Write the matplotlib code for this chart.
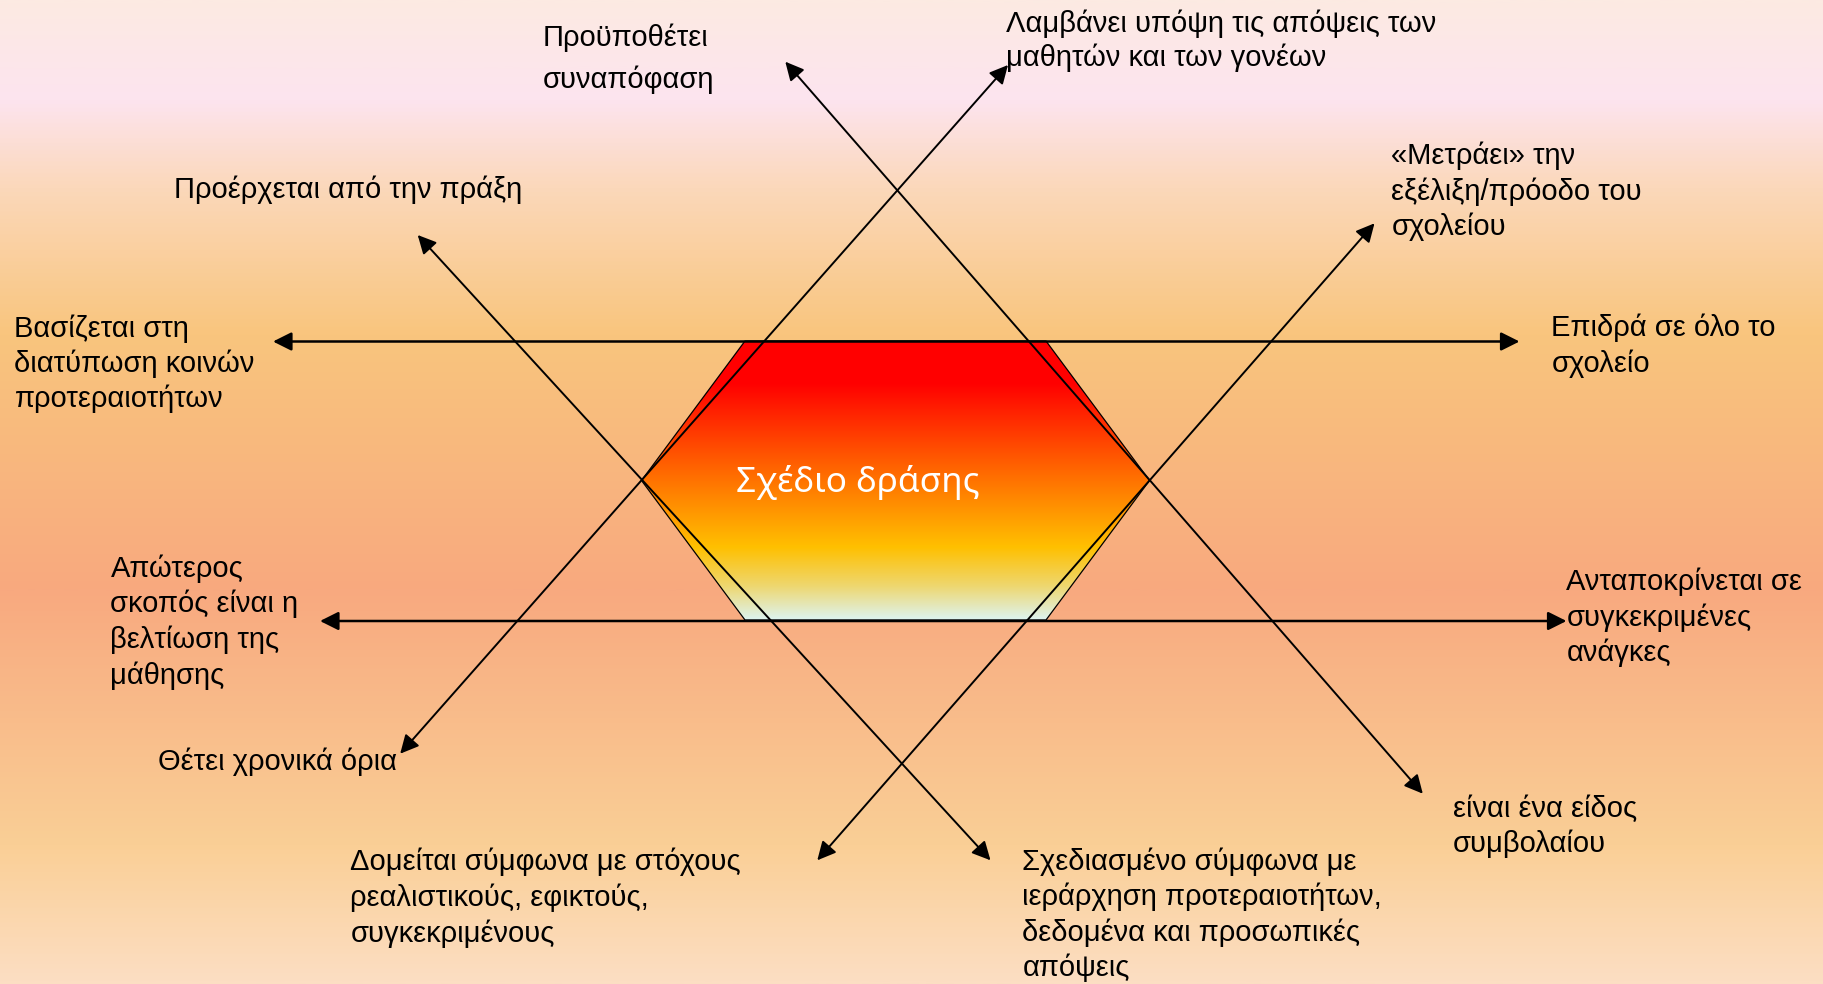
import matplotlib
matplotlib.use('Agg')
import matplotlib.pyplot as plt
import numpy as np
from matplotlib.colors import LinearSegmentedColormap
from matplotlib.patches import Polygon, FancyArrowPatch

plt.rcParams['font.family'] = ['Liberation Sans', 'DejaVu Sans']

# Canvas size in pixels (axes use pixel coordinates, y pointing down)
W, H = 1824, 984

# Central shape
center_label = 'Σχέδιο δράσης'

# Labels around the star, one entry per line
labels = [
    ['Προϋποθέτει', 'συναπόφαση'],
    ['Λαμβάνει υπόψη τις απόψεις των', 'μαθητών και των γονέων'],
    ['Προέρχεται από την πράξη'],
    ['«Μετράει» την', 'εξέλιξη/πρόοδο του', 'σχολείου'],
    ['Βασίζεται στη', 'διατύπωση κοινών', 'προτεραιοτήτων'],
    ['Επιδρά σε όλο το', 'σχολείο'],
    ['Απώτερος', 'σκοπός είναι η', 'βελτίωση της', 'μάθησης'],
    ['Ανταποκρίνεται σε', 'συγκεκριμένες', 'ανάγκες'],
    ['Θέτει χρονικά όρια'],
    ['είναι ένα είδος', 'συμβολαίου'],
    ['Δομείται σύμφωνα με στόχους', 'ρεαλιστικούς, εφικτούς,', 'συγκεκριμένους'],
    ['Σχεδιασμένο σύμφωνα με', 'ιεράρχηση προτεραιοτήτων,',
     'δεδομένα και προσωπικές', 'απόψεις'],
]
# layout: left edge, first baseline, line step (pixels)
label_x = [543, 1006.5, 174.5, 1391.5, 14.5, 1551.5, 110.5, 1566.5, 158, 1453, 350.5, 1022.5]
label_y = [46.5, 31.5, 198, 164, 337, 336, 577, 590, 770, 817, 870, 870]
label_step = [41, 34.5, 35, 35.5, 35, 36, 35.5, 35.5, 35, 35, 36, 35.3]

# Double headed arrows: (x1, y1) <-> (x2, y2)
arrow_x1 = [273, 320, 400.2, 785.3, 417.7, 1374.5]
arrow_y1 = [341.5, 621, 753.7, 61.7, 235, 223.3]
arrow_x2 = [1519.5, 1566.5, 1008, 1422.8, 990.5, 817.3]
arrow_y2 = [341.5, 621, 65, 793.7, 860.3, 860.3]
arrow_lw = [1.8, 1.8, 1.4, 1.4, 1.4, 1.4]

# Hexagon geometry
hex_cx, hex_cy = 895.5, 480.5
hex_half_top = 150.5
hex_half_mid = 254
hex_half_h = 139.5

fig = plt.figure(figsize=(W / 100, H / 100), dpi=100)
ax = fig.add_axes([0, 0, 1, 1])
ax.set_xlim(0, W)
ax.set_ylim(H, 0)
ax.axis('off')

# background vertical gradient
bg_cmap = LinearSegmentedColormap.from_list('bg', [
    (0.0, '#FCEAE2'), (0.10, '#FDE4EF'), (0.19, '#FBD8BA'),
    (0.34, '#F9C57D'), (0.60, '#F8A97F'), (0.86, '#FACF96'),
    (1.0, '#FCDEC3')])
grad = np.linspace(0, 1, 512).reshape(-1, 1)
ax.imshow(grad, cmap=bg_cmap, extent=(0, W, H, 0), aspect='auto', zorder=0)

# hexagon with gradient fill
hx = [hex_cx - hex_half_top, hex_cx + hex_half_top, hex_cx + hex_half_mid,
      hex_cx + hex_half_top, hex_cx - hex_half_top, hex_cx - hex_half_mid]
hy = [hex_cy - hex_half_h, hex_cy - hex_half_h, hex_cy,
      hex_cy + hex_half_h, hex_cy + hex_half_h, hex_cy]
hexagon = Polygon(np.column_stack([hx, hy]), closed=True, facecolor='none',
                  edgecolor='black', lw=0.9, zorder=3)
ax.add_patch(hexagon)
hex_cmap = LinearSegmentedColormap.from_list('hex', [
    (0.0, '#FF0000'), (0.15, '#FF0000'), (0.5, '#FF7300'),
    (0.74, '#FFC000'), (0.88, '#EED770'), (1.0, '#DDF4F0')])
im = ax.imshow(grad, cmap=hex_cmap, aspect='auto', zorder=2,
               extent=(min(hx), max(hx), max(hy), min(hy)))
im.set_clip_path(hexagon)

# arrows
for x1, y1, x2, y2, lw in zip(arrow_x1, arrow_y1, arrow_x2, arrow_y2, arrow_lw):
    arr = FancyArrowPatch((x1, y1), (x2, y2),
                          arrowstyle='<|-|>,head_length=0.4,head_width=0.2',
                          mutation_scale=28, lw=lw, color='black',
                          shrinkA=0, shrinkB=0, zorder=4)
    ax.add_patch(arr)

# center label
ax.text(736, 492.5, center_label, color='white', fontsize=25.3,
        family=['Noto Sans', 'DejaVu Sans'], ha='left', va='baseline', zorder=5)

# surrounding labels
for lines, x, y0, step in zip(labels, label_x, label_y, label_step):
    for i, line in enumerate(lines):
        ax.text(x, y0 + i * step, line, fontsize=21, color='black',
                ha='left', va='baseline', zorder=5)

fig.savefig('out.png', dpi=100)
